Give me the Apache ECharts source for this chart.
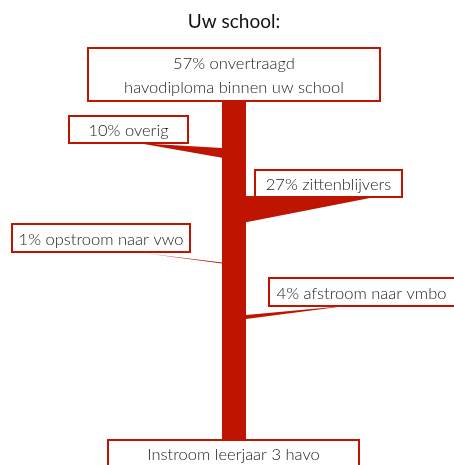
<!DOCTYPE html>
<html lang="nl">
<head>
    <meta charset="UTF-8">
    <title>Uw school</title>
    <script src="https://cdn.jsdelivr.net/npm/echarts@6/dist/echarts.min.js"></script>
    <style>
        html, body { margin: 0; padding: 0; background: #fff; }
        #chart { width: 454px; height: 465px; }
    </style>
</head>
<body>
<div id="chart"></div>
<script>
    // data
    const chartTitle = 'Uw school:';
    const sourceLabel = 'Instroom leerjaar 3 havo';
    const outcomeNames = ['onvertraagd\nhavodiploma binnen uw school', 'overig', 'zittenblijvers', 'opstroom naar vwo', 'afstroom naar vmbo'];
    const outcomePct = [57, 10, 27, 1, 4];

    // layout (pixel space of the hidden axes)
    const red = '#bf1500';
    const font = 'Lato, "Open Sans", sans-serif';
    const trunk = {x: 234, w: 24, top: 101, bottom: 440};
    const outcomeBoxes = [[88, 48, 380, 101], [69, 116, 188, 143], [255, 170, 402, 197], [12, 224, 190, 252], [269, 278, 458, 306]];
    const branchAt = [null, 148, 196, 262.5, 315];
    const branchTip = [null, [137, 143], [372, 197], [135, 252], [345, 306]];
    const sourceBox = [108, 440, 359, 478];
    const pxPerPct = 0.97;

    (function () {
        draw();
    })();

    function draw() {
        let myChart = echarts.init(document.getElementById('chart'));

        let branchData = [];
        let boxData = [];
        outcomePct.forEach(function (p, i) {
            let b = outcomeBoxes[i];
            boxData.push({value: [b[0], b[1], b[2], b[3]], name: p + '% ' + outcomeNames[i]});
            if (branchTip[i]) {
                branchData.push([branchTip[i][0], branchTip[i][1], branchAt[i], p]);
            }
        });
        boxData.push({value: sourceBox.slice(), name: sourceLabel});

        let option = {
            animation: false,
            title: {
                text: chartTitle,
                left: 229,
                textAlign: 'center',
                top: 7,
                textStyle: {fontFamily: font, fontSize: 19, fontWeight: 'normal', color: '#111'}
            },
            grid: {left: 0, right: 0, top: 0, bottom: 0},
            xAxis: {type: 'value', min: 0, max: 454, show: false},
            yAxis: {type: 'value', min: 0, max: 465, inverse: true, show: false},
            series: [
                {
                    type: 'custom',
                    name: 'stam',
                    data: [[trunk.x, trunk.top, trunk.bottom]],
                    renderItem: function (params, api) {
                        let a = api.coord([api.value(0) - trunk.w / 2, api.value(1)]);
                        let b = api.coord([api.value(0) + trunk.w / 2, api.value(2)]);
                        return {
                            type: 'rect',
                            shape: {x: a[0], y: a[1], width: b[0] - a[0], height: b[1] - a[1]},
                            style: {fill: red}
                        };
                    },
                    z: 1
                },
                {
                    type: 'custom',
                    name: 'takken',
                    data: branchData,
                    renderItem: function (params, api) {
                        let tx = api.value(0), ty = api.value(1), y0 = api.value(2), p = api.value(3);
                        let w = Math.max(p * pxPerPct, 1);
                        let edge = tx < trunk.x ? trunk.x - trunk.w / 2 : trunk.x + trunk.w / 2;
                        let half = Math.max(w * 0.12, 0.5);
                        let pts = [
                            api.coord([tx - half, ty]),
                            api.coord([tx + half, ty]),
                            api.coord([edge, y0 + w]),
                            api.coord([edge, y0])
                        ];
                        return {type: 'polygon', shape: {points: pts}, style: {fill: red}};
                    },
                    z: 2
                },
                {
                    type: 'custom',
                    name: 'labels',
                    data: boxData,
                    renderItem: function (params, api) {
                        let a = api.coord([api.value(0), api.value(1)]);
                        let b = api.coord([api.value(2), api.value(3)]);
                        let name = boxData[params.dataIndex].name;
                        let cy = params.dataIndex === boxData.length - 1 ? a[1] + 15 : (a[1] + b[1]) / 2 + 1.5;
                        return {
                            type: 'group',
                            children: [
                                {
                                    type: 'rect',
                                    shape: {x: a[0], y: a[1], width: b[0] - a[0], height: b[1] - a[1]},
                                    style: {fill: '#fff', stroke: red, lineWidth: 2}
                                },
                                {
                                    type: 'text',
                                    x: (a[0] + Math.min(b[0], 454)) / 2,
                                    y: cy,
                                    style: {
                                        text: name,
                                        align: 'center',
                                        verticalAlign: 'middle',
                                        fontFamily: font,
                                        fontSize: 16.5,
                                        fontWeight: 300,
                                        lineHeight: 24,
                                        fill: '#1c1c1c'
                                    }
                                }
                            ]
                        };
                    },
                    z: 3
                }
            ]
        };
        myChart.setOption(option);
    }
</script>
</body>
</html>
